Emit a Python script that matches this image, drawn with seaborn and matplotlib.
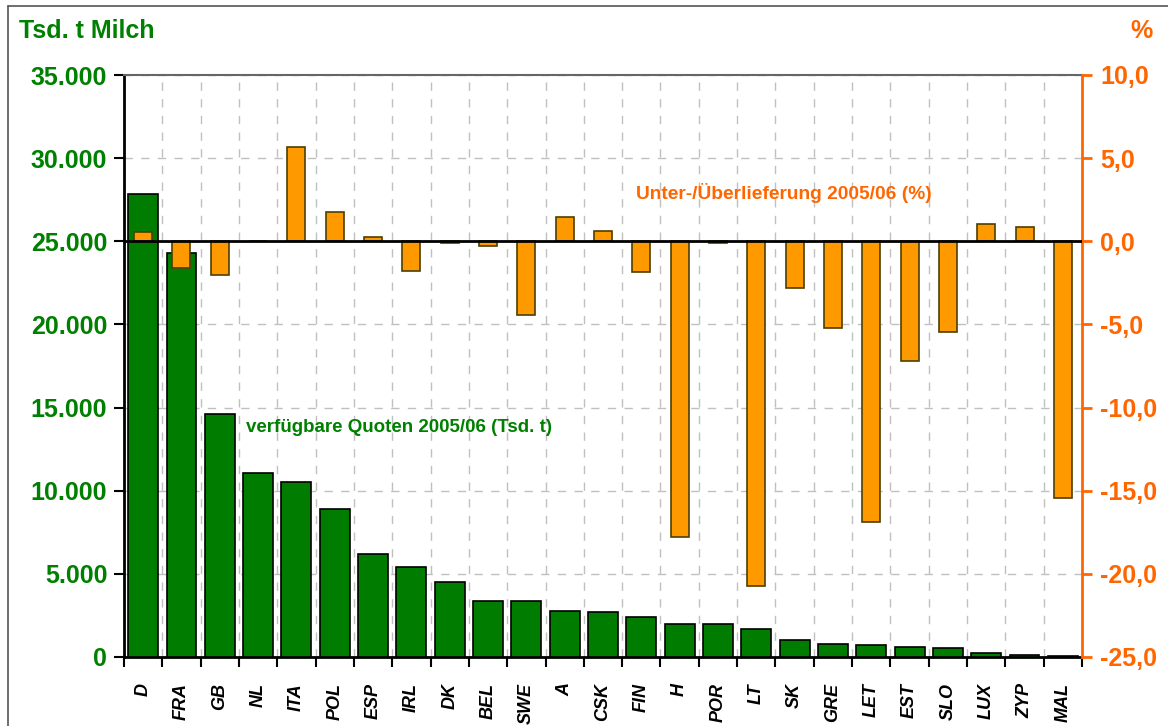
import numpy as np
import pandas as pd
import matplotlib
matplotlib.use("Agg")
import matplotlib.pyplot as plt
from matplotlib.lines import Line2D
from matplotlib.ticker import FuncFormatter
import seaborn as sns

# Daten
laender = ["D", "FRA", "GB", "NL", "ITA", "POL", "ESP", "IRL", "DK", "BEL", "SWE", "A",
           "CSK", "FIN", "H", "POR", "LT", "SK", "GRE", "LET", "EST", "SLO", "LUX", "ZYP", "MAL"]
quoten = [27850, 24290, 14640, 11070, 10500, 8890, 6170, 5420, 4500, 3350, 3350, 2760,
          2690, 2390, 1960, 1956, 1660, 1010, 790, 730, 630, 570, 265, 125, 55]
lieferung = [0.55, -1.6, -2.0, 0.0, 5.65, 1.75, 0.27, -1.78, -0.12, -0.28, -4.45, 1.48,
             0.63, -1.83, -17.8, -0.1, -20.75, -2.8, -5.24, -16.9, -7.22, -5.46, 1.05, 0.88, -15.45]

GREEN = "#007D00"
GREEN_TXT = "#008000"
ORANGE = "#FF9900"
ORANGE_TXT = "#FF6600"

df = pd.DataFrame({"land": laender, "quote": quoten, "diff": lieferung})

sns.set_theme(style="white")
plt.rcParams["font.family"] = ["Liberation Sans", "DejaVu Sans"]

fig = plt.figure(figsize=(11.68, 7.26), dpi=100)
ax = fig.add_axes([124 / 1168, 1 - 657 / 726, 958 / 1168, 582 / 726])

sns.barplot(data=df, x="land", y="quote", color=GREEN, saturation=1, width=0.78,
            edgecolor="black", linewidth=1.2, ax=ax, zorder=3)
ax.set_ylim(0, 35000)
ax.set_xlim(-0.5, len(laender) - 0.5)
ax.set_yticks(np.arange(0, 35001, 5000))
ax.yaxis.set_major_formatter(FuncFormatter(lambda v, p: f"{int(v):,}".replace(",", ".")))
ax.set_xlabel("")
ax.set_ylabel("")

# x-Ticks an den Kategoriegrenzen, Labels mittig
ax.set_xticks(np.arange(len(laender)))
ax.set_xticklabels(laender, rotation=90, fontsize=13, fontweight="bold", fontstyle="italic")
ax.set_xticks(np.arange(-0.5, len(laender)), minor=True)
ax.tick_params(axis="x", which="major", length=0, pad=19, colors="black")
ax.tick_params(axis="x", which="minor", length=7, width=1.5, direction="out", color="black", bottom=True)
ax.tick_params(axis="y", length=7, width=1.5, direction="out", pad=5, color="black", left=True)
for t in ax.get_yticklabels():
    t.set_color(GREEN_TXT)
    t.set_fontsize(18)
    t.set_fontweight("bold")

ax.grid(False)
ax.grid(axis="y", which="major", color="#C0C0C0", linestyle=(0, (6, 6)), linewidth=1, zorder=0)
ax.grid(axis="x", which="minor", color="#C0C0C0", linestyle=(0, (6, 6)), linewidth=1, zorder=0)
ax.set_axisbelow(True)

for s in ["left", "bottom"]:
    ax.spines[s].set_color("black")
    ax.spines[s].set_linewidth(2)
ax.spines["top"].set_color("#666666")
ax.spines["top"].set_linewidth(1.5)
ax.spines["right"].set_visible(False)

# zweite Achse: Unter-/Überlieferung
ax2 = ax.twinx()
sns.barplot(data=df, x="land", y="diff", color=ORANGE, saturation=1, width=0.47,
            edgecolor="#4D4000", linewidth=1.2, ax=ax2, zorder=3)
ax2.set_xlim(-0.5, len(laender) - 0.5)
ax2.set_ylim(-25, 10)
ax2.set_yticks(np.arange(-25, 10.1, 5))
ax2.yaxis.set_major_formatter(FuncFormatter(lambda v, p: f"{v:.1f}".replace(".", ",")))
ax2.set_ylabel("")
ax2.set_xlabel("")
ax2.axhline(0, color="black", linewidth=2, zorder=4)
ax2.tick_params(axis="y", length=7, width=2, direction="out", pad=6, color=ORANGE_TXT, right=True)
for t in ax2.get_yticklabels():
    t.set_color(ORANGE_TXT)
    t.set_fontsize(18)
    t.set_fontweight("bold")
ax2.spines["right"].set_color(ORANGE_TXT)
ax2.spines["right"].set_linewidth(2)
for s in ["left", "top", "bottom"]:
    ax2.spines[s].set_visible(False)
ax2.grid(False)

# Texte
fig.text(19 / 1168, 1 - 31 / 726, "Tsd. t Milch", color=GREEN_TXT, fontsize=18,
         fontweight="bold", ha="left", va="center")
fig.text(1153 / 1168, 1 - 31 / 726, "%", color=ORANGE_TXT, fontsize=18,
         fontweight="bold", ha="right", va="center")
fig.text(246 / 1168, 1 - 428 / 726, "verfügbare Quoten 2005/06 (Tsd. t)", color=GREEN_TXT,
         fontsize=13.5, fontweight="bold", ha="left", va="center")
fig.text(636 / 1168, 1 - 193 / 726, "Unter-/Überlieferung 2005/06 (%)", color=ORANGE_TXT,
         fontsize=13.8, fontweight="bold", ha="left", va="center")

# Rahmen links/oben
fig.add_artist(Line2D([8 / 1168, 8 / 1168], [0, 1 - 6 / 726], color="#555555", lw=1.2))
fig.add_artist(Line2D([8 / 1168, 1], [1 - 6 / 726, 1 - 6 / 726], color="#555555", lw=1.2))

fig.savefig("out.png", dpi=100)
